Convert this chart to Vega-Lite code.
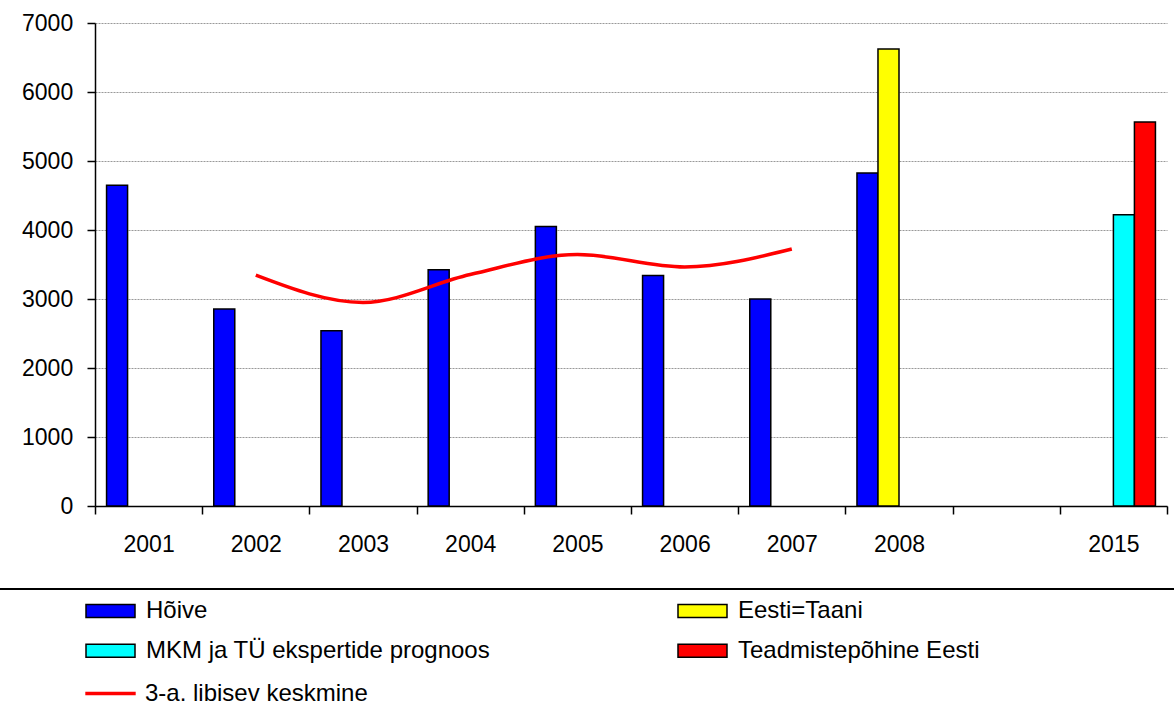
{
  "$schema": "https://vega.github.io/schema/vega-lite/v6.json",
  "autosize": {"type": "none"},
  "padding": {"left": 95, "top": 23, "right": 7, "bottom": 200},
  "width": 1072,
  "height": 483,
  "background": "white",
  "datasets": {
    "bars": [
      {"year": "2001", "series": "Hõive", "value": 4650},
      {"year": "2002", "series": "Hõive", "value": 2855},
      {"year": "2003", "series": "Hõive", "value": 2540},
      {"year": "2004", "series": "Hõive", "value": 3425},
      {"year": "2005", "series": "Hõive", "value": 4050},
      {"year": "2006", "series": "Hõive", "value": 3340},
      {"year": "2007", "series": "Hõive", "value": 3000},
      {"year": "2008", "series": "Hõive", "value": 4825},
      {"year": "2008", "series": "Eesti=Taani", "value": 6625},
      {"year": "2015", "series": "MKM ja TÜ ekspertide prognoos", "value": 4220},
      {"year": "2015", "series": "Teadmistepõhine Eesti", "value": 5565}
    ],
    "ma": [
      {"year": "2002", "series": "3-a. libisev keskmine", "value": 3345},
      {"year": "2003", "series": "3-a. libisev keskmine", "value": 2950},
      {"year": "2004", "series": "3-a. libisev keskmine", "value": 3355},
      {"year": "2005", "series": "3-a. libisev keskmine", "value": 3645},
      {"year": "2006", "series": "3-a. libisev keskmine", "value": 3465},
      {"year": "2007", "series": "3-a. libisev keskmine", "value": 3725}
    ]
  },
  "encoding": {
    "x": {
      "field": "year", "type": "nominal",
      "scale": {"domain": ["2001","2002","2003","2004","2005","2006","2007","2008"," ","2015"], "paddingInner": 0, "paddingOuter": 0},
      "axis": {
        "title": null, "labelAngle": 0, "tickBand": "extent", "tickSize": 8, "labelPadding": 19.3,
        "grid": false,
        "encode": {"ticks": {"update": {"y": {"value": -7}}}}
      }
    },
    "y": {
      "field": "value", "type": "quantitative",
      "scale": {"domain": [0, 7000], "nice": false},
      "axis": {
        "title": null, "values": [0,1000,2000,3000,4000,5000,6000,7000], "format": "d",
        "grid": true, "gridColor": "#999999", "gridDash": [2, 1], "gridWidth": 1,
        "tickSize": 8, "labelPadding": 14.3,
        "encode": {"ticks": {"update": {"x": {"value": 6}}}}
      }
    }
  },
  "layer": [
    {
      "data": {"name": "bars"},
      "mark": {"type": "bar", "stroke": "black", "strokeWidth": 1.5},
      "encoding": {
        "xOffset": {
          "field": "series", "type": "nominal",
          "scale": {"domain": ["Hõive", "Eesti=Taani", "MKM ja TÜ ekspertide prognoos", "Teadmistepõhine Eesti"], "paddingInner": 0, "paddingOuter": 0.55}
        },
        "fill": {
          "field": "series", "type": "nominal",
          "scale": {
            "domain": ["Hõive", "Eesti=Taani", "MKM ja TÜ ekspertide prognoos", "Teadmistepõhine Eesti"],
            "range": ["#0000FF", "#FFFF00", "#00FFFF", "#FF0000"]
          },
          "legend": {
            "orient": "none", "legendX": -105, "legendY": 566,
            "values": ["Hõive", "MKM ja TÜ ekspertide prognoos", "Eesti=Taani", "Teadmistepõhine Eesti"],
            "columns": 2, "columnPadding": 101, "rowPadding": 15.8,
            "padding": 10, "strokeColor": "black",
            "title": "\u00a0",
            "titleOrient": "right", "titlePadding": 250, "titleFontSize": 150,
            "titleFont": "Liberation Sans",
            "symbolType": "M-3.5,-0.93H3.5V0.93H-3.5Z", "symbolSize": 196,
            "symbolStrokeWidth": 1.5, "symbolStrokeColor": "black",
            "symbolOffset": 98.5, "labelOffset": 23.5,
            "labelFont": "Liberation Sans", "labelFontSize": 24, "labelColor": "black", "labelLimit": 600,
            "encode": {"legend": {"update": {"strokeWidth": {"value": 2}}}}
          }
        }
      }
    },
    {
      "data": {"name": "ma"},
      "mark": {"type": "line", "interpolate": "monotone", "strokeWidth": 3.5},
      "encoding": {
        "stroke": {
          "field": "series", "type": "nominal",
          "scale": {"domain": ["3-a. libisev keskmine"], "range": ["#FF0000"]},
          "legend": {
            "orient": "none", "legendX": -95, "legendY": 658.5,
            "title": null, "padding": 0,
            "symbolType": "M-3.6,0H3.6", "symbolSize": 196, "symbolStrokeWidth": 3.5,
            "symbolOffset": 98.5, "labelOffset": 22.5,
            "labelFont": "Liberation Sans", "labelFontSize": 24, "labelColor": "black", "labelLimit": 600
          }
        }
      }
    }
  ],
  "resolve": {"legend": {"fill": "independent", "stroke": "independent"}},
  "config": {
    "view": {"stroke": null},
    "axis": {
      "labelFont": "Liberation Sans", "labelFontSize": 23, "labelColor": "black",
      "domainColor": "black", "domainWidth": 1.5, "tickColor": "black", "tickWidth": 1.5
    }
  }
}
